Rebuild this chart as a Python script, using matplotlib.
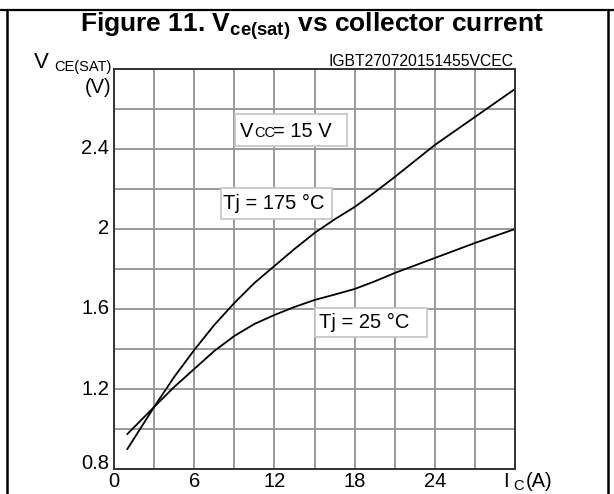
import matplotlib
matplotlib.use("Agg")
import matplotlib.pyplot as plt
from matplotlib.patches import Rectangle
from matplotlib.lines import Line2D

plt.rcParams['font.family'] = ['Liberation Sans', 'DejaVu Sans']
plt.rcParams['mathtext.fontset'] = 'custom'
plt.rcParams['mathtext.rm'] = 'Liberation Sans'
plt.rcParams['mathtext.bf'] = 'Liberation Sans:bold'

# Data
ic = [1, 3, 4.5, 6, 7.5, 9, 10.5, 12, 13.5, 15, 16.5, 18, 19.5, 21, 24, 27, 30]
v_175 = [0.90, 1.11, 1.26, 1.395, 1.52, 1.63, 1.73, 1.815, 1.90, 1.98, 2.048, 2.11, 2.183, 2.26, 2.42, 2.56, 2.70]
v_25 = [0.975, 1.11, 1.21, 1.30, 1.39, 1.465, 1.525, 1.57, 1.61, 1.645, 1.672, 1.70, 1.738, 1.78, 1.855, 1.93, 2.00]

xticks = [0, 6, 12, 18, 24]
xtick_labels = ['0', '6', '12', '18', '24']
yticks = [0.8, 1.2, 1.6, 2.0, 2.4]
ytick_labels = ['0.8', '1.2', '1.6', '2', '2.4']

W, H = 614, 494
fig = plt.figure(figsize=(W / 100, H / 100), dpi=100)


def fx(x):
    return x / W


def fy(y):
    return 1 - y / H


# Outer table-cell frame
fig.add_artist(Line2D([0, 1], [fy(10), fy(10)], color='black', lw=1.6))
fig.add_artist(Line2D([fx(7), fx(7)], [fy(10), 0], color='black', lw=1.8))
fig.add_artist(Line2D([fx(608), fx(608)], [fy(10), 0], color='black', lw=1.8))

ax = fig.add_axes([fx(114), fy(469), fx(515) - fx(114), fy(69) - fy(469)])
ax.set_xlim(0, 30)
ax.set_ylim(0.8, 2.8)
ax.set_xticks([i * 3 for i in range(11)])
ax.set_yticks([0.8 + 0.2 * i for i in range(11)])
ax.grid(True, color='#9a9a9a', lw=1.4, zorder=0)
ax.tick_params(length=0, labelbottom=False, labelleft=False)
for s in ax.spines.values():
    s.set_color('#333333')
    s.set_linewidth(1.4)
    s.set_zorder(5)

fs = 14.5
for xv, lab in zip(xticks, xtick_labels):
    ax.text(xv, 0.785, lab, ha='center', va='top', fontsize=fs)
for yv, lab in zip(yticks, ytick_labels):
    off = 0.03 if yv == 0.8 else 0.0
    ax.text(-0.35, yv + off, lab, ha='right', va='center', fontsize=fs)

ax.plot(ic, v_175, color='black', lw=1.3, zorder=4)
ax.plot(ic, v_25, color='black', lw=1.3, zorder=4)

# Annotation boxes
box_ec = '#c4c4c4'
ax.add_patch(Rectangle((9.05, 2.4165), 17.4 - 9.05, 2.575 - 2.4165, fc='white', ec=box_ec, lw=1.2, zorder=2))
ax.add_patch(Rectangle((7.98, 2.05), 16.31 - 7.98, 2.205 - 2.05, fc='white', ec=box_ec, lw=1.2, zorder=2))
ax.add_patch(Rectangle((15.04, 1.4615), 23.39 - 15.04, 1.605 - 1.4615, fc='white', ec=box_ec, lw=1.2, zorder=2))

ax.text(9.45, 2.461, 'V', ha='left', va='baseline', fontsize=fs, zorder=6)
ax.text(10.47, 2.461, 'CC', ha='left', va='baseline', fontsize=10.5, zorder=6)
ax.text(11.9, 2.461, '= 15 V', ha='left', va='baseline', fontsize=fs, zorder=6)
ax.text(8.15, 2.128, 'Tj = 175 °C', ha='left', va='center', fontsize=fs, zorder=6)
ax.text(15.3, 1.533, 'Tj = 25 °C', ha='left', va='center', fontsize=fs, zorder=6)

# Title
fig.text(fx(312), fy(32), r'Figure 11. V$_{\mathbf{ce(sat)}}$ vs collector current',
         ha='center', va='baseline', fontsize=19, fontweight='bold')

# Y axis label
fig.text(fx(34), fy(68), 'V', ha='left', va='baseline', fontsize=16)
fig.text(fx(54), fy(71), 'CE(SAT)', ha='left', va='baseline', fontsize=10.5)
fig.text(fx(111), fy(87), '(V)', ha='right', va='center', fontsize=fs)

# X axis label
fig.text(fx(503), fy(487), 'I', ha='left', va='baseline', fontsize=fs)
fig.text(fx(513), fy(490), 'C', ha='left', va='baseline', fontsize=10.5)
fig.text(fx(526), fy(487), '(A)', ha='left', va='baseline', fontsize=fs)

# Code text
fig.text(fx(514), fy(66), 'IGBT270720151455VCEC', ha='right', va='baseline', fontsize=11.3)

fig.savefig('out.png', dpi=100)
